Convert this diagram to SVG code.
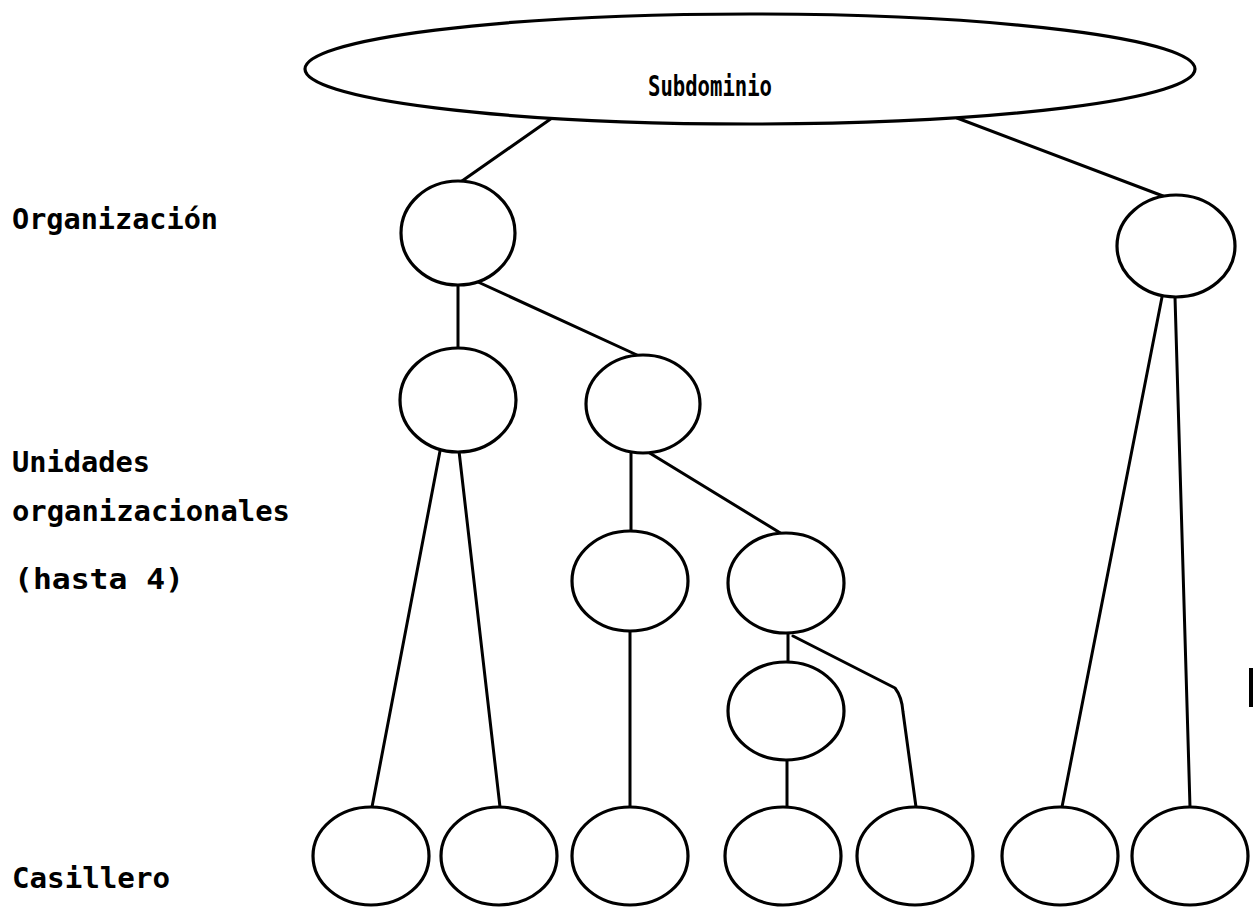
<svg xmlns="http://www.w3.org/2000/svg" width="1253" height="908" viewBox="0 0 1253 908">
  <style>
    .node { fill: #ffffff; stroke: #000000; stroke-width: 3.2; }
    .edge { fill: none; stroke: #000000; stroke-width: 3; stroke-linecap: round; stroke-linejoin: round; }
    .lbl { font-family: "DejaVu Sans Mono", "Liberation Mono", monospace; font-weight: bold; font-size: 29px; fill: #000000; }
  </style>
  <rect x="0" y="0" width="1253" height="908" fill="#ffffff"/>

  <!-- connectors -->
  <g id="connectors">
    <path class="edge" d="M552,118 L462,181"/>
    <path class="edge" d="M957,118 L1163,196"/>
    <path class="edge" d="M458,285 L458,349"/>
    <path class="edge" d="M478,282 L637,355"/>
    <path class="edge" d="M440,451 L372,807"/>
    <path class="edge" d="M459,451 L500,807"/>
    <path class="edge" d="M631,452 L631,532"/>
    <path class="edge" d="M648,452 L782,534"/>
    <path class="edge" d="M630,631 L630,807"/>
    <path class="edge" d="M788,633 L788,662"/>
    <path class="edge" d="M793,636 L895,688 Q902,697 903,712 L916,807"/>
    <path class="edge" d="M787,760 L787,807"/>
    <path class="edge" d="M1162,297 L1062,807"/>
    <path class="edge" d="M1175,297 L1190,807"/>
  </g>

  <!-- root -->
  <g id="subdominio">
    <ellipse class="node" cx="750" cy="69" rx="445" ry="55"/>
    <text class="lbl" x="710" y="96" text-anchor="middle" textLength="124" lengthAdjust="spacingAndGlyphs">Subdominio</text>
  </g>

  <!-- organization level -->
  <g id="org-1"><ellipse class="node" cx="458" cy="233" rx="57" ry="52"/></g>
  <g id="org-2"><ellipse class="node" cx="1176" cy="246" rx="59" ry="51"/></g>

  <!-- organizational units -->
  <g id="unit-1"><ellipse class="node" cx="458" cy="400" rx="58" ry="52"/></g>
  <g id="unit-2"><ellipse class="node" cx="643" cy="404" rx="57" ry="49"/></g>
  <g id="unit-3"><ellipse class="node" cx="630" cy="581" rx="58" ry="50"/></g>
  <g id="unit-4"><ellipse class="node" cx="786" cy="583" rx="58" ry="50"/></g>
  <g id="unit-5"><ellipse class="node" cx="786" cy="711" rx="58" ry="49"/></g>

  <!-- mailboxes -->
  <g id="box-1"><ellipse class="node" cx="371" cy="856" rx="58" ry="49"/></g>
  <g id="box-2"><ellipse class="node" cx="499" cy="856" rx="58" ry="49"/></g>
  <g id="box-3"><ellipse class="node" cx="630" cy="856" rx="58" ry="49"/></g>
  <g id="box-4"><ellipse class="node" cx="783" cy="856" rx="58" ry="49"/></g>
  <g id="box-5"><ellipse class="node" cx="915" cy="856" rx="58" ry="49"/></g>
  <g id="box-6"><ellipse class="node" cx="1060" cy="856" rx="58" ry="49"/></g>
  <g id="box-7"><ellipse class="node" cx="1190" cy="856" rx="58" ry="49"/></g>

  <!-- level captions -->
  <g id="captions">
    <text class="lbl" x="12" y="229" textLength="206" lengthAdjust="spacingAndGlyphs">Organización</text>
    <text class="lbl" x="12" y="472" textLength="138" lengthAdjust="spacingAndGlyphs">Unidades</text>
    <text class="lbl" x="12" y="521" textLength="278" lengthAdjust="spacingAndGlyphs">organizacionales</text>
    <text class="lbl" x="14" y="589" textLength="170" lengthAdjust="spacingAndGlyphs">(hasta 4)</text>
    <text class="lbl" x="12" y="888" textLength="158" lengthAdjust="spacingAndGlyphs">Casillero</text>
  </g>

  <!-- edge mark -->
  <rect x="1249" y="668" width="4" height="39" fill="#000000"/>
</svg>
